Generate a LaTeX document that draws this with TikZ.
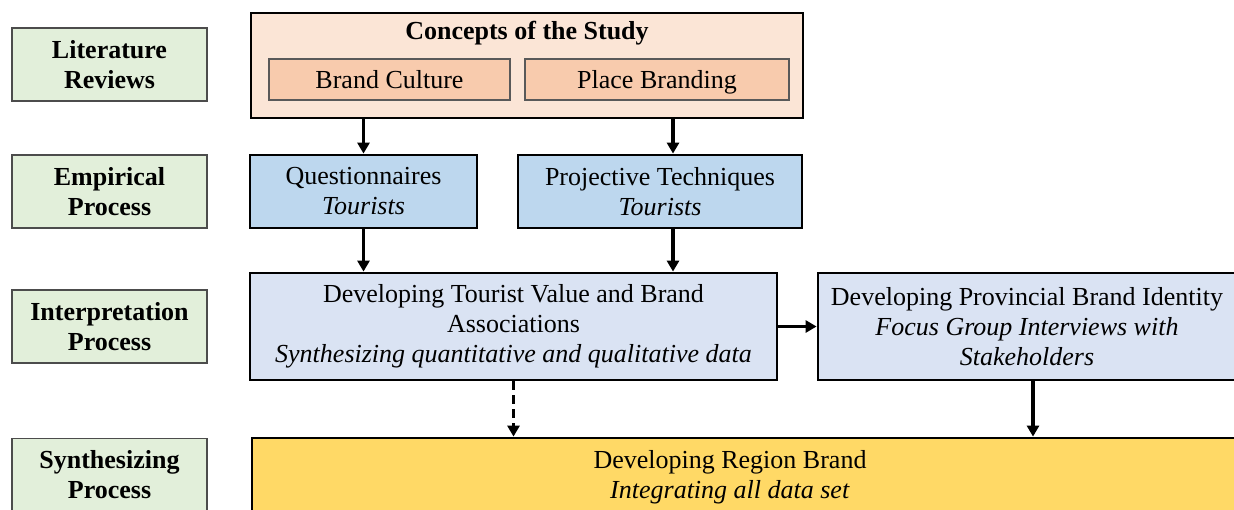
\documentclass[tikz,border=0pt]{standalone}
\usepackage{fontspec}
\setmainfont{Liberation Serif}
\usetikzlibrary{arrows.meta}
\definecolor{labgreen}{HTML}{E2EFDA}
\definecolor{conceptfill}{HTML}{FBE5D6}
\definecolor{innerfill}{HTML}{F8CBAD}
\definecolor{empblue}{HTML}{BDD7EE}
\definecolor{devblue}{HTML}{DAE3F3}
\definecolor{regionfill}{HTML}{FFD966}
\begin{document}
\begin{tikzpicture}[x=1pt,y=-1pt,
  every node/.style={font=\fontsize{26}{30}\selectfont},
  lab/.style={draw=black!70, line width=1.2pt, fill=labgreen, minimum width=195pt, minimum height=73pt, inner sep=0pt, align=center, font=\fontsize{26}{30}\selectfont\bfseries},
  mainbox/.style={draw=black, line width=2.8pt, inner sep=0pt, align=center},
  innerbox/.style={draw=black!65, line width=1.2pt, fill=innerfill, inner sep=0pt, minimum height=41pt, text height=21pt, text depth=3pt},
  txt/.style={inner sep=0pt, align=center},
  arr/.style={line width=3.2pt, -{Triangle[length=11pt,width=12pt]}}
]
\useasboundingbox (0,0) rectangle (1234,509);
\begin{scope}
\clip (0,0) rectangle (1234,509);
% left labels
\node[lab] (lit) at (109.5,64.5) {Literature\\Reviews};
\node[lab] (emp) at (109.5,191.5) {Empirical\\Process};
\node[lab] (int) at (109.5,326.5) {Interpretation\\Process};
\node[lab] (syn) at (109.5,475) {Synthesizing\\Process};
% concepts
\node[mainbox, fill=conceptfill, minimum width=552pt, minimum height=105pt] (concepts) at (527,65.5) {};
\node[txt, font=\fontsize{26}{30}\selectfont\bfseries] (ctitle) at (527,33) {Concepts of the Study};
\node[innerbox, minimum width=241pt] (bc) at (389.5,79.5) {Brand Culture};
\node[innerbox, minimum width=264pt] (pb) at (657,79.5) {Place Branding};
% empirical
\node[mainbox, fill=empblue, minimum width=227pt, minimum height=73pt] (quest) at (363.5,191.5) {Questionnaires\\\textit{Tourists}};
\node[mainbox, fill=empblue, minimum width=284pt, minimum height=73pt] (proj) at (660,191.5) {Projective Techniques\\\textit{Tourists}};
% interpretation
\node[mainbox, fill=devblue, minimum width=527pt, minimum height=107pt] (dev) at (513.5,326.5) {Developing Tourist Value and Brand\\Associations\\\textit{Synthesizing quantitative and qualitative data}};
\node[mainbox, fill=devblue, minimum width=418pt, minimum height=107pt] (prov) at (1027,326.5) {Developing Provincial Brand Identity\\\textit{Focus Group Interviews with}\\\textit{Stakeholders}};
% region
\node[mainbox, fill=regionfill, minimum width=1008pt, minimum height=102pt] (region) at (756,489) {};
\node[txt] (rtext) at (730,477) {Developing Region Brand\\\textit{Integrating all data set}};
% arrows
\coordinate (a2) at ([xshift=13pt]proj.north);
\coordinate (a4) at ([xshift=13pt]proj.south);
\coordinate (a7) at ([xshift=6pt]prov.south);
\draw[arr] (concepts.south -| quest.north) -- (quest.north);
\draw[arr] (concepts.south -| a2) -- (a2);
\draw[arr] (quest.south) -- (quest.south |- dev.north);
\draw[arr] (a4) -- (a4 |- dev.north);
\draw[arr] (dev.east) -- (prov.west);
\draw[arr, dash pattern=on 9pt off 5pt] (dev.south) -- (dev.south |- region.north);
\draw[arr] (a7) -- (a7 |- region.north);
\end{scope}
\end{tikzpicture}
\end{document}
